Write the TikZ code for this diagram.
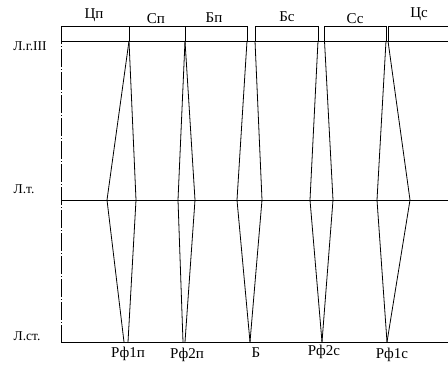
\documentclass[tikz,border=0pt]{standalone}
\usepackage{fontspec}
\setmainfont{Liberation Serif}
\begin{document}
\begin{tikzpicture}[x=1pt,y=-1pt,
  ln/.style={line width=0.8pt,black},
  lbl/.style={inner sep=0pt,font=\fontsize{15}{15}\selectfont},
  lbll/.style={inner sep=0pt,font=\fontsize{13.5}{13.5}\selectfont},
  axisline/.style={line width=0.8pt,dash pattern=on 18pt off 2pt on 1pt off 2pt,dash phase=1pt}]
\useasboundingbox (0,0) rectangle (448,365);
% horizontal levels
\coordinate (L0) at (61,26);
\coordinate (L1) at (61,41);
\coordinate (L2) at (61,200);
\coordinate (L3) at (61,342);
\coordinate (R1) at (448,41);
\coordinate (R2) at (448,200);
\coordinate (R3) at (448,342);
% axis
\draw[axisline] (L3) -- (L0);
\draw[ln] (L1) -- (R1);
\draw[ln] (L2) -- (R2);
\draw[ln] (L3) -- (R3);
% element top points
\coordinate (a1) at (129,26); \coordinate (a1b) at (129,41);
\coordinate (a2) at (185,26); \coordinate (a2b) at (185,41);
\coordinate (b1) at (247,26); \coordinate (b1b) at (247,41);
\coordinate (b2) at (255,26); \coordinate (b2b) at (255,41);
\coordinate (c1) at (318,26); \coordinate (c1b) at (318,41);
\coordinate (c2) at (324.5,26); \coordinate (c2b) at (324.5,41);
\coordinate (d1) at (386,26); \coordinate (d1b) at (386,41);
\coordinate (d2) at (388,26); \coordinate (d2b) at (388,41);
\coordinate (TR) at (448,26);
% top line segments
\draw[ln] (L0) -- (b1);
\draw[ln] (b2) -- (c1);
\draw[ln] (c2) -- (d1);
\draw[ln] (d2) -- (TR);
% ticks
\draw[ln] (a1) -- (a1b);
\draw[ln] (a2) -- (a2b);
\draw[ln] (b1) -- (b1b);
\draw[ln] (b2) -- (b2b);
\draw[ln] (c1) -- (c1b);
\draw[ln] (c2) -- (c2b);
\draw[ln] (d1) -- (d1b);
\draw[ln] (d2) -- (d2b);
% element 1
\coordinate (m1l) at (107,200); \coordinate (m1r) at (136,200);
\coordinate (e1l) at (124,342); \coordinate (e1r) at (128,342);
\draw[ln] (a1b) -- (m1l) -- (e1l);
\draw[ln] (a1b) -- (m1r) -- (e1r);
% element 2
\coordinate (m2l) at (178,200); \coordinate (m2r) at (195,200);
\coordinate (e2l) at (183,342); \coordinate (e2r) at (185,342);
\draw[ln] (a2b) -- (m2l) -- (e2l);
\draw[ln] (a2b) -- (m2r) -- (e2r);
% element 3
\coordinate (m3l) at (237,200); \coordinate (m3r) at (262,200);
\coordinate (e3) at (250,342);
\draw[ln] (b1b) -- (m3l) -- (e3);
\draw[ln] (b2b) -- (m3r) -- (e3);
% element 4
\coordinate (m4l) at (310,200); \coordinate (m4r) at (333,200);
\coordinate (e4) at (322,342);
\draw[ln] (c1b) -- (m4l) -- (e4);
\draw[ln] (c2b) -- (m4r) -- (e4);
% element 5
\coordinate (m5l) at (377,200); \coordinate (m5r) at (410,200);
\coordinate (e5) at (387,342);
\draw[ln] (d1b) -- (m5l) -- (e5);
\draw[ln] (d2b) -- (m5r) -- (e5);
% top labels
\node[lbl] (tCp) at (94,15) {Цп};
\node[lbl] (tSp) at (156,19) {Сп};
\node[lbl] (tBp) at (214,18) {Бп};
\node[lbl] (tBs) at (287,17) {Бс};
\node[lbl] (tSs) at (355,19) {Сс};
\node[lbl] (tCs) at (419,14) {Цс};
% left labels
\node[lbll] (lg) at (30,46) {Л.г.III};
\node[lbll] (lt) at (24,189) {Л.т.};
\node[lbll] (lst) at (27,336) {Л.ст.};
% bottom labels
\node[lbl] (bR1p) at (128,354) {Рф1п};
\node[lbl] (bR2p) at (187,355) {Рф2п};
\node[lbl] (bB) at (256,353) {Б};
\node[lbl] (bR2s) at (324,352) {Рф2с};
\node[lbl] (bR1s) at (392,355) {Рф1с};
\end{tikzpicture}
\end{document}
